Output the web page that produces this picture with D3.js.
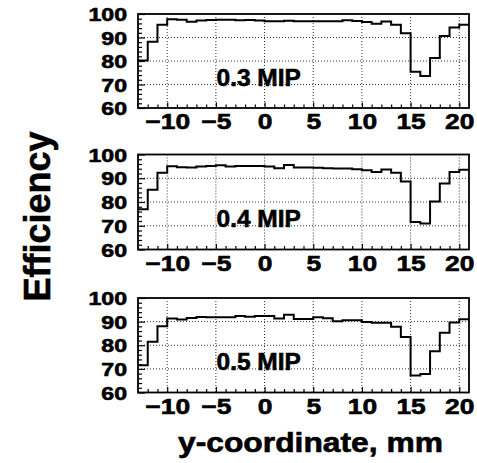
<!DOCTYPE html>
<html>
<head>
<meta charset="utf-8">
<script src="https://cdn.jsdelivr.net/npm/d3@7"></script>
<style>
  body { margin: 0; background: #fff; }
  svg { display: block; }
  text { font-family: "Liberation Sans", Arial, Helvetica, sans-serif; font-weight: bold; fill: #000; stroke: #000; stroke-width: 0.6px; }
</style>
</head>
<body>
<svg id="chart" width="477" height="463"></svg>
<script>
// ---- data ----
const binEdgesStart = -13;           // first bin low edge (mm)
const binWidth = 1;                  // mm
const xTicks = [-10, -5, 0, 5, 10, 15, 20];
const yTicks = [60, 70, 80, 90, 100];
const panelLabels = ["0.3 MIP", "0.4 MIP", "0.5 MIP"];

const eff03 = [80.2, 88.2, 95.4, 97.8, 97.6, 96.7, 97.2, 97.4, 97.6, 97.6, 97.3, 97.5, 97.2,
               96.9, 96.9, 97.1, 96.9, 96.9, 96.9, 96.9, 96.9, 97.3, 97.0, 96.6, 95.8, 96.8,
               95.4, 91.8, 75.4, 73.6, 81.3, 90.6, 94.3, 95.4];
const eff04 = [76.9, 85.2, 92.3, 95.1, 94.6, 94.5, 94.9, 95.2, 95.5, 94.9, 95.2, 95.2, 95.2,
               94.9, 94.2, 95.6, 94.5, 94.5, 94.4, 94.2, 94.1, 94.1, 93.8, 93.4, 92.6, 93.7,
               92.3, 88.6, 71.6, 70.9, 80.2, 87.8, 92.6, 93.6];
const eff05 = [71.5, 81.5, 88.0, 91.3, 90.9, 91.5, 92.0, 91.8, 91.8, 91.8, 92.4, 92.1, 92.4,
               92.4, 91.3, 92.9, 91.1, 91.1, 91.8, 91.4, 90.2, 90.6, 90.6, 89.8, 89.5, 89.5,
               87.8, 83.5, 67.2, 67.8, 77.5, 85.3, 89.6, 91.0];
const series = [eff03, eff04, eff05];

// ---- layout ----
const svg = d3.select("#chart");
const xLeft = 138, xRight = 469;
const panels = [
  { top: 14,    bottom: 108 },
  { top: 154.5, bottom: 249.5 },
  { top: 298,   bottom: 392.5 }
];

const x = d3.scaleLinear().domain([-13, 21]).range([xLeft, xRight]);

const ySX = 1.25, xSX = 1.2;

panels.forEach((p, i) => {
  const vals = series[i];
  const y = d3.scaleLinear().domain([60, 100]).range([p.bottom, p.top]);
  const g = svg.append("g");

  // grid (dotted)
  g.append("g").selectAll("line.gx").data(xTicks).join("line")
    .attr("x1", d => x(d)).attr("x2", d => x(d))
    .attr("y1", p.top).attr("y2", p.bottom)
    .attr("stroke", "#333").attr("stroke-width", 1).attr("stroke-dasharray", "1,2");
  g.append("g").selectAll("line.gy").data([70, 80, 90]).join("line")
    .attr("x1", xLeft).attr("x2", xRight)
    .attr("y1", d => y(d)).attr("y2", d => y(d))
    .attr("stroke", "#333").attr("stroke-width", 1).attr("stroke-dasharray", "1,2");

  // minor ticks
  const yMinor = d3.range(62, 100, 2).filter(v => v % 10 !== 0);
  g.append("g").attr("transform", `translate(${xLeft},0)`)
    .call(d3.axisLeft(y).tickValues(yMinor).tickSize(-4).tickFormat(""))
    .call(a => a.select(".domain").remove())
    .selectAll("line").attr("stroke-width", 1.2);
  const xMinor = d3.range(-12, 21, 1).filter(v => v % 5 !== 0);
  g.append("g").attr("transform", `translate(0,${p.bottom})`)
    .call(d3.axisBottom(x).tickValues(xMinor).tickSize(-3.5).tickFormat(""))
    .call(a => a.select(".domain").remove())
    .selectAll("line").attr("stroke-width", 1.2);

  // major y axis
  const yPad = 11;
  const ya = g.append("g").attr("transform", `translate(${xLeft},0)`)
    .call(d3.axisLeft(y).tickValues(yTicks).tickSize(-7).tickPadding(yPad).tickFormat(d3.format("d")));
  ya.select(".domain").remove();
  ya.selectAll("line").attr("stroke-width", 1.2);
  ya.selectAll("text")
    .attr("font-size", 18.5)
    .attr("x", -yPad / ySX)
    .attr("dy", "0.36em")
    .attr("transform", `scale(${ySX},1)`);

  // major x axis
  const xa = g.append("g").attr("transform", `translate(0,${p.bottom})`)
    .call(d3.axisBottom(x).tickValues(xTicks).tickSize(-5.5).tickPadding(5.5).tickFormat(d3.format("d")));
  xa.select(".domain").remove();
  xa.selectAll("line").attr("stroke-width", 1.2);
  xa.selectAll("text")
    .attr("font-size", 22)
    .attr("transform", `scale(${xSX},1)`)
    .attr("x", 0);

  // histogram (step)
  const pts = vals.map((v, k) => [binEdgesStart + k * binWidth, v]);
  pts.push([binEdgesStart + vals.length * binWidth, vals[vals.length - 1]]);
  const line = d3.line().x(d => x(d[0])).y(d => y(d[1])).curve(d3.curveStepAfter);
  g.append("path").datum(pts).attr("d", line)
    .attr("fill", "none").attr("stroke", "#000").attr("stroke-width", 2);

  // frame
  g.append("rect").attr("x", xLeft).attr("y", p.top)
    .attr("width", xRight - xLeft).attr("height", p.bottom - p.top)
    .attr("fill", "none").attr("stroke", "#000").attr("stroke-width", 1.8);

  // panel label
  g.append("text").attr("x", 216.5).attr("y", p.top + 72)
    .attr("font-size", 24.5).text(panelLabels[i]);
});

// axis titles
svg.append("text")
  .attr("transform", "translate(50,216.5) rotate(-90)")
  .attr("text-anchor", "middle")
  .attr("font-size", 36)
  .text("Efficiency");

svg.append("text")
  .attr("x", 178).attr("y", 452)
  .attr("font-size", 27)
  .attr("textLength", 265).attr("lengthAdjust", "spacingAndGlyphs")
  .text("y-coordinate, mm");
</script>
</body>
</html>
